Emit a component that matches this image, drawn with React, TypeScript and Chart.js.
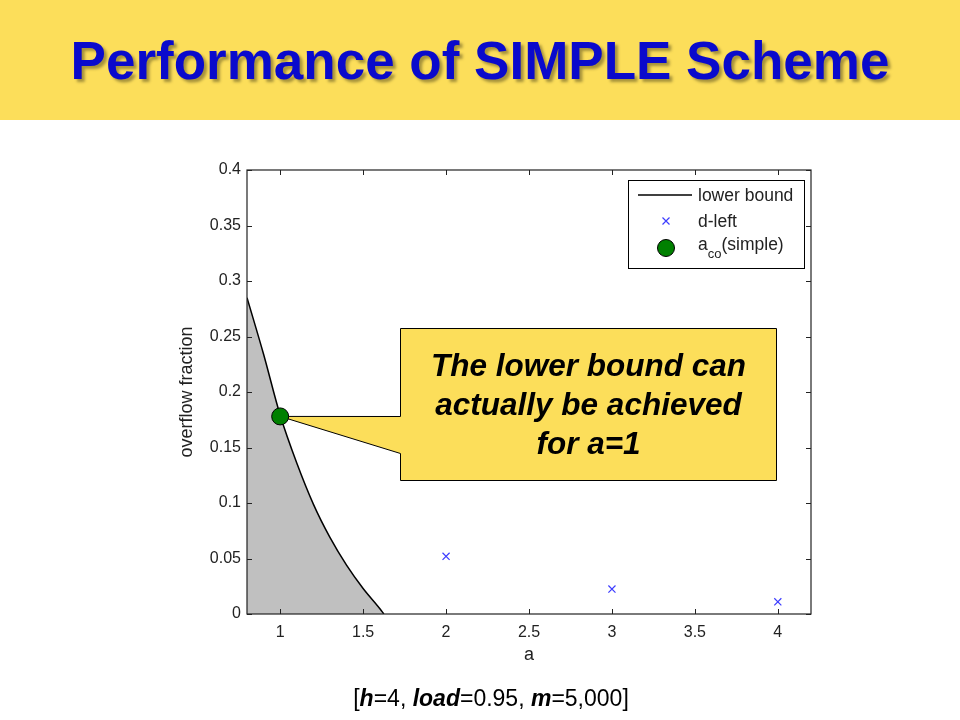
import React, { useEffect, useRef } from "react";
import { Chart, registerables } from "chart.js";

Chart.register(...registerables);

// ---------- data ----------
const lowerA = [0.8, 0.9, 1.0, 1.1, 1.2, 1.3, 1.4, 1.5, 1.6, 1.625];
const lowerVal = [0.285, 0.234, 0.179, 0.136, 0.099, 0.069, 0.044, 0.023, 0.005, 0];
const dLeftA = [2, 3, 4];
const dLeftVal = [0.052, 0.0225, 0.011];
const acoA = [1];
const acoVal = [0.178];

const xTicks = [1, 1.5, 2, 2.5, 3, 3.5, 4];
const xTickLabels = ["1", "1.5", "2", "2.5", "3", "3.5", "4"];
const yTicks = [0, 0.05, 0.1, 0.15, 0.2, 0.25, 0.3, 0.35, 0.4];
const yTickLabels = ["0", "0.05", "0.1", "0.15", "0.2", "0.25", "0.3", "0.35", "0.4"];

const seriesNames = ["lower bound", "d-left", "a", "co", "(simple)"];
const calloutLines = ["The lower bound can", "actually be achieved", "for a=1"];
const titleText = "Performance of SIMPLE Scheme";
const xTitle = "a";
const yTitle = "overflow fraction";

const FONT = "'Liberation Sans', Arial, Helvetica, sans-serif";
const AXIS_COLOR = "#222";
const YELLOW = "#FCDE5A";
const GREEN = "#008000";
const BLUE = "#3c3cff";

const framePlugin = {
  id: "frame",
  beforeDatasetsDraw(chart: any) {
    const { ctx, scales } = chart;
    const x = scales.x;
    const y = scales.y;
    const tipX = x.getPixelForValue(acoA[0]);
    const tipY = y.getPixelForValue(acoVal[0]);
    ctx.save();
    ctx.beginPath();
    ctx.moveTo(400.5, 328.5);
    ctx.lineTo(776.5, 328.5);
    ctx.lineTo(776.5, 480.5);
    ctx.lineTo(400.5, 480.5);
    ctx.lineTo(400.5, 453.5);
    ctx.lineTo(tipX, tipY);
    ctx.lineTo(400.5, 416.5);
    ctx.closePath();
    ctx.fillStyle = YELLOW;
    ctx.fill();
    ctx.strokeStyle = "#000";
    ctx.lineWidth = 1;
    ctx.stroke();
    ctx.fillStyle = "#000";
    ctx.font = `italic bold 31.5px ${FONT}`;
    ctx.textAlign = "center";
    ctx.textBaseline = "middle";
    const cx = (400 + 777) / 2;
    const ys = [367, 406, 445];
    calloutLines.forEach((t, i) => ctx.fillText(t, cx, ys[i]));
    ctx.restore();
  },
  afterDatasetsDraw(chart: any) {
    const { ctx, chartArea, scales } = chart;
    const { left, right, top, bottom } = chartArea;
    const x = scales.x;
    const y = scales.y;
    ctx.save();
    ctx.strokeStyle = AXIS_COLOR;
    ctx.lineWidth = 1.2;
    ctx.strokeRect(left, top, right - left, bottom - top);
    ctx.lineWidth = 1;
    ctx.beginPath();
    const tl = 5;
    xTicks.forEach((v) => {
      const px = Math.round(x.getPixelForValue(v)) + 0.5;
      ctx.moveTo(px, bottom);
      ctx.lineTo(px, bottom - tl);
      ctx.moveTo(px, top);
      ctx.lineTo(px, top + tl);
    });
    yTicks.forEach((v) => {
      const py = Math.round(y.getPixelForValue(v)) + 0.5;
      ctx.moveTo(left, py);
      ctx.lineTo(left + tl, py);
      ctx.moveTo(right, py);
      ctx.lineTo(right - tl, py);
    });
    ctx.stroke();
    ctx.restore();
  },
  afterDraw(chart: any) {
    const { ctx } = chart;
    ctx.save();
    // legend box
    ctx.fillStyle = "#fff";
    ctx.fillRect(628.5, 180.5, 176, 88);
    ctx.strokeStyle = "#000";
    ctx.lineWidth = 1;
    ctx.strokeRect(628.5, 180.5, 176, 88);
    // line sample
    ctx.beginPath();
    ctx.moveTo(638, 195);
    ctx.lineTo(692, 195);
    ctx.lineWidth = 1.3;
    ctx.stroke();
    // cross sample
    ctx.strokeStyle = BLUE;
    ctx.lineWidth = 1.2;
    ctx.beginPath();
    ctx.moveTo(662.5, 217.5);
    ctx.lineTo(669.5, 224.5);
    ctx.moveTo(669.5, 217.5);
    ctx.lineTo(662.5, 224.5);
    ctx.stroke();
    // circle sample
    ctx.beginPath();
    ctx.arc(666, 248, 8.5, 0, Math.PI * 2);
    ctx.fillStyle = GREEN;
    ctx.fill();
    ctx.strokeStyle = "#000";
    ctx.lineWidth = 1;
    ctx.stroke();
    // texts
    ctx.fillStyle = AXIS_COLOR;
    ctx.textAlign = "left";
    ctx.textBaseline = "alphabetic";
    ctx.font = `17.5px ${FONT}`;
    ctx.fillText(seriesNames[0], 698, 201);
    ctx.fillText(seriesNames[1], 698, 227);
    ctx.fillText(seriesNames[2], 698, 250);
    const aw = ctx.measureText(seriesNames[2]).width;
    ctx.font = `13px ${FONT}`;
    ctx.fillText(seriesNames[3], 698 + aw, 258);
    const cw = ctx.measureText(seriesNames[3]).width;
    ctx.font = `17.5px ${FONT}`;
    ctx.fillText(seriesNames[4], 698 + aw + cw, 250);
    ctx.restore();
  },
};

export default function App() {
  const ref = useRef<HTMLCanvasElement | null>(null);

  useEffect(() => {
    if (!ref.current) return;
    const tickFont = { family: FONT, size: 16 };
    const titleFont = { family: FONT, size: 18 };
    const chart = new Chart(ref.current, {
      type: "scatter",
      data: {
        datasets: [
          {
            type: "line",
            label: seriesNames[0],
            data: lowerA.map((a, i) => ({ x: a, y: lowerVal[i] })),
            borderColor: "#000",
            borderWidth: 1.5,
            backgroundColor: "#c0c0c0",
            fill: "origin",
            pointRadius: 0,
            cubicInterpolationMode: "monotone",
            order: 3,
          },
          {
            label: seriesNames[1],
            data: dLeftA.map((a, i) => ({ x: a, y: dLeftVal[i] })),
            pointStyle: "crossRot",
            pointRadius: 5,
            borderColor: BLUE,
            borderWidth: 1.2,
            backgroundColor: BLUE,
            showLine: false,
            order: 2,
          },
          {
            label: "a_co(simple)",
            data: acoA.map((a, i) => ({ x: a, y: acoVal[i] })),
            pointStyle: "circle",
            pointRadius: 8.5,
            backgroundColor: GREEN,
            borderColor: "#000",
            borderWidth: 1,
            showLine: false,
            order: 1,
          },
        ],
      } as any,
      options: {
        animation: false,
        responsive: false,
        devicePixelRatio: 1,
        layout: { padding: { left: 175, right: 149, top: 170, bottom: 46 } },
        plugins: { legend: { display: false }, tooltip: { enabled: false } },
        scales: {
          x: {
            type: "linear",
            min: 0.8,
            max: 4.2,
            afterBuildTicks: (s: any) => {
              s.ticks = xTicks.map((v) => ({ value: v }));
            },
            afterFit: (s: any) => {
              s.height = 60;
            },
            grid: { display: false, drawTicks: false },
            border: { display: false },
            ticks: {
              autoSkip: false,
              maxRotation: 0,
              padding: 9,
              color: AXIS_COLOR,
              font: tickFont,
              callback: (v: any) => xTickLabels[xTicks.indexOf(Number(v))] ?? "",
            },
            title: {
              display: true,
              text: xTitle,
              color: AXIS_COLOR,
              font: titleFont,
              padding: { top: 0, bottom: 8 },
            },
          },
          y: {
            type: "linear",
            min: 0,
            max: 0.4,
            afterBuildTicks: (s: any) => {
              s.ticks = yTicks.map((v) => ({ value: v }));
            },
            afterFit: (s: any) => {
              s.width = 72;
            },
            grid: { display: false, drawTicks: false },
            border: { display: false },
            ticks: {
              autoSkip: false,
              padding: 6,
              color: AXIS_COLOR,
              font: tickFont,
              callback: (v: any) => {
                const idx = yTicks.findIndex((t) => Math.abs(t - Number(v)) < 1e-9);
                return idx >= 0 ? yTickLabels[idx] : "";
              },
            },
            title: {
              display: true,
              text: yTitle,
              color: AXIS_COLOR,
              font: titleFont,
              padding: { top: 1, bottom: 0 },
            },
          },
        },
      } as any,
      plugins: [framePlugin],
    });
    return () => chart.destroy();
  }, []);

  return (
    <div style={{ position: "absolute", left: 0, top: 0, width: 960, height: 720, background: "#fff", overflow: "hidden" }}>
      <div
        style={{
          position: "absolute",
          left: 0,
          top: 0,
          width: 960,
          height: 120,
          background: YELLOW,
        }}
      />
      <div
        style={{
          position: "absolute",
          left: 0,
          top: 30,
          width: 960,
          textAlign: "center",
          fontFamily: FONT,
          fontWeight: "bold",
          fontSize: 53,
          lineHeight: "62px",
          color: "#0a0acc",
          textShadow: "3px 3px 3px rgba(0,0,0,0.35)",
          whiteSpace: "nowrap",
        }}
      >
        {titleText}
      </div>
      <canvas
        ref={ref}
        width={960}
        height={720}
        style={{ position: "absolute", left: 0, top: 0, width: 960, height: 720 }}
      />
      <div
        style={{
          position: "absolute",
          left: 491,
          top: 684,
          transform: "translateX(-50%)",
          fontFamily: FONT,
          fontSize: 23,
          lineHeight: "28px",
          color: "#000",
          whiteSpace: "nowrap",
        }}
      >
        [<b><i>h</i></b>=4, <b><i>load</i></b>=0.95, <b><i>m</i></b>=5,000]
      </div>
    </div>
  );
}
